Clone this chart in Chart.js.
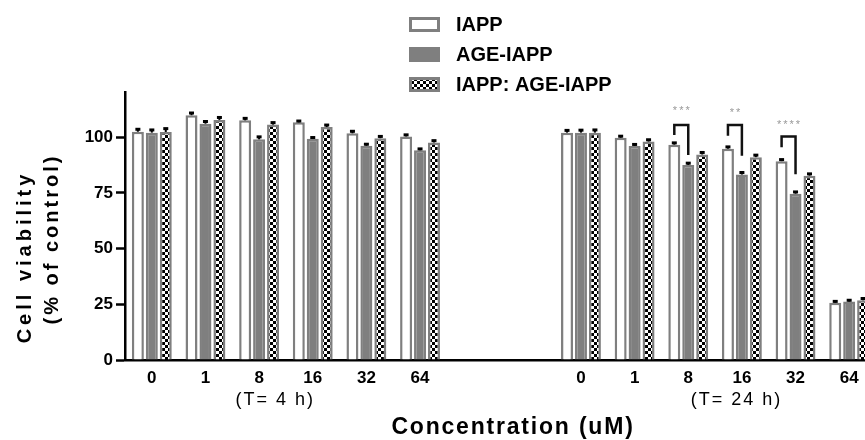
<!DOCTYPE html>
<html>
<head>
<meta charset="utf-8">
<script src="https://cdn.jsdelivr.net/npm/chart.js@4/dist/chart.umd.min.js"></script>
<style>
html, body { margin: 0; padding: 0; background: #fff; overflow: hidden; }
#contenedor { position: relative; width: 878px; height: 440px; }
</style>
</head>
<body>
<div id="contenedor"><canvas id="grafico"></canvas></div>
<script>
// categorias: 0..64 a 4 h, dos huecos, 0..64 a 24 h
var categorias = ["0", "1", "8", "16", "32", "64", "", "", "0", "1", "8", "16", "32", "64"];
var nombresSeries = ["IAPP", "AGE-IAPP", "IAPP: AGE-IAPP"];

var valoresIAPP = [102.4, 109.8, 107.5, 106.6, 101.7, 100.3, null, null, 102.0, 99.7, 96.6, 94.8, 89.2, 25.7];
var valoresAGE  = [102.0, 106.0, 99.0, 99.2, 96.1, 94.1, null, null, 102.0, 96.0, 87.5, 83.2, 74.6, 26.2];
var valoresMix  = [102.3, 107.7, 105.6, 104.5, 99.5, 97.6, null, null, 102.0, 98.0, 92.2, 91.0, 82.7, 26.8];

var erroresIAPP = [1.1, 1.0, 0.9, 0.6, 0.9, 0.7, null, null, 1.0, 0.7, 0.8, 0.8, 0.7, 0.6];
var erroresAGE  = [1.2, 1.0, 1.1, 0.6, 0.7, 0.6, null, null, 1.1, 0.7, 0.8, 0.9, 0.8, 0.6];
var erroresMix  = [1.5, 1.1, 0.9, 0.9, 0.8, 0.8, null, null, 1.2, 0.8, 0.9, 0.9, 0.8, 0.8];

var ticksY = [0, 25, 50, 75, 100];

var gruposTexto = ["(T= 4 h)", "(T= 24 h)"];
var gruposPosicion = [2.3, 10.9];

// corchetes de significación (24 h)
var sigIndice = [10, 11, 12];
var sigEstrellas = ["***", "**", "****"];
var sigArriba = [105.4, 105.4, 100.3];
var sigFinIzq = [100.9, 100.6, 95.4];
var sigFinDer = [92.0, 91.6, 83.3];
var sigTextoY = [111.8, 110.8, 105.4];

var FUENTE = "'Liberation Sans', Arial, sans-serif";
var GRIS = "#7f7f7f";

function patronCuadros() {
    var c = document.createElement("canvas");
    c.width = 6;
    c.height = 6;
    var x = c.getContext("2d");
    x.fillStyle = "#fff";
    x.fillRect(0, 0, 6, 6);
    x.fillStyle = "#000";
    x.fillRect(0, 0, 3, 3);
    x.fillRect(3, 3, 3, 3);
    return x.createPattern(c, "repeat");
}

var errores = [erroresIAPP, erroresAGE, erroresMix];

var anotaciones = {
    id: "anotaciones",
    afterDatasetsDraw: function (chart) {
        var ctx = chart.ctx;
        var y = chart.scales.y;
        ctx.save();
        ctx.strokeStyle = "#000";
        chart.data.datasets.forEach(function (ds, i) {
            var meta = chart.getDatasetMeta(i);
            meta.data.forEach(function (barra, j) {
                var v = ds.data[j];
                if (v == null) return;
                var y0 = y.getPixelForValue(v);
                var y1 = y.getPixelForValue(v + errores[i][j]);
                ctx.lineWidth = 2;
                ctx.beginPath();
                ctx.moveTo(barra.x, y0);
                ctx.lineTo(barra.x, y1);
                ctx.stroke();
                ctx.lineWidth = 3;
                ctx.beginPath();
                ctx.moveTo(barra.x - 2.5, y1);
                ctx.lineTo(barra.x + 2.5, y1);
                ctx.stroke();
            });
        });

        // corchetes
        var m0 = chart.getDatasetMeta(0), m1 = chart.getDatasetMeta(1);
        ctx.lineWidth = 2.5;
        ctx.strokeStyle = "#111";
        sigIndice.forEach(function (k, n) {
            var xa = m0.data[k].x, xb = m1.data[k].x;
            ctx.beginPath();
            ctx.moveTo(xa, y.getPixelForValue(sigFinIzq[n]));
            ctx.lineTo(xa, y.getPixelForValue(sigArriba[n]));
            ctx.lineTo(xb, y.getPixelForValue(sigArriba[n]));
            ctx.lineTo(xb, y.getPixelForValue(sigFinDer[n]));
            ctx.stroke();
            ctx.fillStyle = "#999";
            ctx.font = "11px " + FUENTE;
            ctx.letterSpacing = "2px";
            ctx.textAlign = "center";
            ctx.textBaseline = "middle";
            ctx.fillText(sigEstrellas[n], (xa + xb) / 2 + 1, y.getPixelForValue(sigTextoY[n]));
        });
        ctx.restore();
    },
    afterDraw: function (chart) {
        var ctx = chart.ctx;
        var x = chart.scales.x;
        ctx.save();
        ctx.fillStyle = "#000";
        ctx.textAlign = "center";
        ctx.textBaseline = "middle";

        // etiquetas de tiempo
        ctx.font = "18px " + FUENTE;
        ctx.letterSpacing = "2px";
        gruposTexto.forEach(function (t, n) {
            ctx.fillText(t, x.getPixelForValue(gruposPosicion[n]), 400);
        });

        // título eje x
        ctx.font = "bold 23px " + FUENTE;
        ctx.letterSpacing = "1.8px";
        ctx.fillText("Concentration (uM)", 513, 428);

        // título eje y
        ctx.font = "bold 20px " + FUENTE;
        ctx.letterSpacing = "4px";
        ctx.save();
        ctx.translate(25, 257);
        ctx.rotate(-Math.PI / 2);
        ctx.fillText("Cell viability", 0, 0);
        ctx.restore();
        ctx.letterSpacing = "3px";
        ctx.save();
        ctx.translate(52, 239);
        ctx.rotate(-Math.PI / 2);
        ctx.fillText("(% of control)", 0, 0);
        ctx.restore();

        // leyenda
        ctx.letterSpacing = "0px";
        ctx.textAlign = "left";
        ctx.font = "bold 20px " + FUENTE;
        chart.data.datasets.forEach(function (ds, i) {
            var cy = 24.5 + i * 30;
            ctx.fillStyle = ds.backgroundColor;
            ctx.fillRect(409, cy - 7.5, 31, 15);
            ctx.strokeStyle = GRIS;
            ctx.lineWidth = 3;
            ctx.strokeRect(410.5, cy - 6, 28, 12);
            ctx.fillStyle = "#000";
            ctx.fillText(ds.label, 456, cy + 1);
        });
        ctx.restore();
    }
};

function cargaGraficoBarras() {
    var datos = {
        labels: categorias,
        datasets: [{
            label: nombresSeries[0],
            data: valoresIAPP,
            backgroundColor: "#fff",
            borderColor: GRIS,
            borderWidth: 2.5
        }, {
            label: nombresSeries[1],
            data: valoresAGE,
            backgroundColor: GRIS,
            borderColor: GRIS,
            borderWidth: 2.5
        }, {
            label: nombresSeries[2],
            data: valoresMix,
            backgroundColor: patronCuadros(),
            borderColor: GRIS,
            borderWidth: 2.5
        }]
    };

    var config = {
        type: "bar",
        data: datos,
        plugins: [anotaciones],
        options: {
            responsive: true,
            maintainAspectRatio: false,
            animation: false,
            categoryPercentage: 0.78,
            barPercentage: 0.86,
            layout: { padding: { top: 92.5, right: 2, left: 0, bottom: 0 } },
            plugins: {
                legend: { display: false },
                tooltip: { enabled: false }
            },
            scales: {
                x: {
                    afterFit: function (s) { s.height = 80; },
                    grid: { display: false, drawTicks: false },
                    border: { display: true, color: "#000", width: 2.5 },
                    ticks: {
                        color: "#000",
                        padding: 8,
                        font: { family: FUENTE, size: 17, weight: "bold" }
                    }
                },
                y: {
                    min: 0,
                    max: 120,
                    afterFit: function (s) { s.width = 125; },
                    afterBuildTicks: function (s) {
                        s.ticks = ticksY.map(function (v) { return { value: v }; });
                    },
                    grid: {
                        display: true,
                        drawOnChartArea: false,
                        drawTicks: true,
                        tickLength: 9,
                        tickWidth: 2.5,
                        tickColor: "#000"
                    },
                    border: { display: true, color: "#000", width: 2.5 },
                    ticks: {
                        color: "#000",
                        padding: 3,
                        font: { family: FUENTE, size: 17, weight: "bold" }
                    }
                }
            }
        }
    };
    new Chart(document.getElementById("grafico").getContext("2d"), config);
}

cargaGraficoBarras();
</script>
</body>
</html>
